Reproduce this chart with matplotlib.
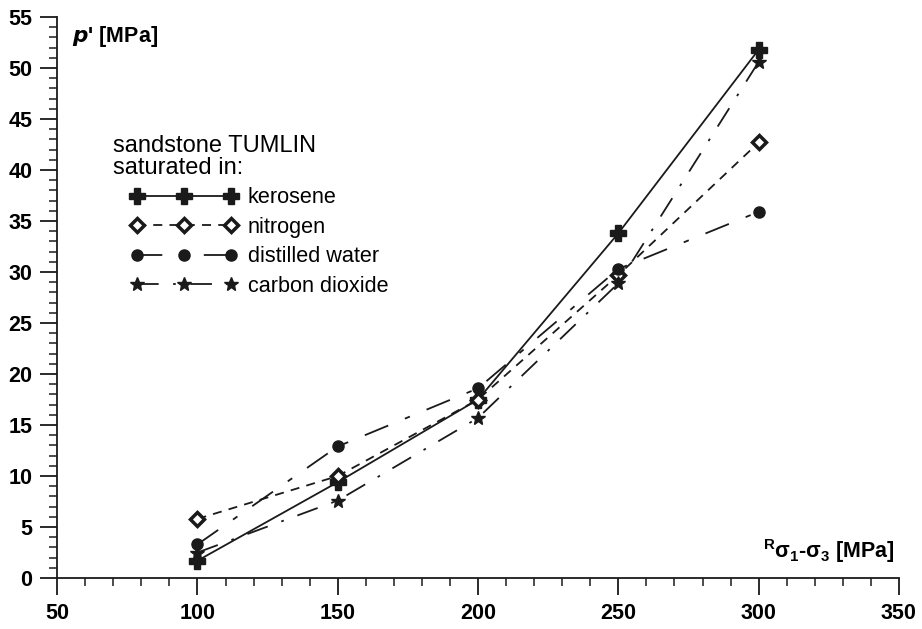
import matplotlib.pyplot as plt
from matplotlib.ticker import MultipleLocator

plt.rcParams['font.family'] = ['Liberation Sans', 'DejaVu Sans']

stress = [100, 150, 200, 250, 300]
kerosene = [1.7, 9.4, 17.5, 33.8, 51.8]
nitrogen = [5.8, 10.0, 17.5, 29.7, 42.7]
water = [3.3, 12.9, 18.6, 30.3, 35.9]
co2 = [2.5, 7.6, 15.7, 28.9, 50.6]

fig = plt.figure(figsize=(9.22, 6.29), dpi=100)
ax = fig.add_axes([0.062, 0.081, 0.913, 0.892])

c = '#1a1a1a'
ax.plot(stress, kerosene, color=c, lw=1.3, ls='-', marker='P', ms=11,
        mec=c, mfc=c, label='kerosene')
ax.plot(stress, nitrogen, color=c, lw=1.3, ls=(0, (5, 4)), marker='D', ms=7,
        mec=c, mfc='white', mew=2.5, label='nitrogen')
ax.plot(stress, water, color=c, lw=1.3, ls=(0, (14, 10, 3, 10)), marker='o', ms=8,
        mec=c, mfc=c, label='distilled water')
ax.plot(stress, co2, color=c, lw=1.3, ls=(0, (12, 8, 1.5, 8)), marker='*', ms=10,
        mec=c, mfc=c, label='carbon dioxide')

ax.set_xlim(50, 350)
ax.set_ylim(0, 55)
ax.xaxis.set_major_locator(MultipleLocator(50))
ax.xaxis.set_minor_locator(MultipleLocator(10))
ax.yaxis.set_major_locator(MultipleLocator(5))
ax.yaxis.set_minor_locator(MultipleLocator(1))

for s in ['top', 'right']:
    ax.spines[s].set_visible(False)
for s in ['left', 'bottom']:
    ax.spines[s].set_linewidth(1.3)
    ax.spines[s].set_color(c)

ax.tick_params(which='major', direction='out', length=12, width=1.3, color=c,
               labelsize=15.5, pad=6)
ax.tick_params(which='minor', direction='out', length=6, width=1.1, color=c)
for lab in ax.get_xticklabels() + ax.get_yticklabels():
    lab.set_fontweight('bold')

ax.text(0.018, 0.965, r"$\boldsymbol{p}$' [MPa]", transform=ax.transAxes,
        fontsize=15.5, fontweight='bold', va='center', ha='left')
ax.text(0.995, 0.048, r'$^{\mathregular{R}}\mathregular{σ_1}$-$\mathregular{σ_3}$ [MPa]',
        transform=ax.transAxes, fontsize=15.5, fontweight='bold', va='center', ha='right')

ax.text(0.066, 0.751, 'sandstone TUMLIN\nsaturated in:', transform=ax.transAxes,
        fontsize=17, va='center', ha='left', linespacing=1.0)

leg = ax.legend(loc='upper left', bbox_to_anchor=(0.077, 0.712), frameon=False,
                numpoints=3, handlelength=4.95, fontsize=15.6, labelspacing=0.39,
                handletextpad=0.45, borderaxespad=0)

fig.savefig('out.png', dpi=100)
